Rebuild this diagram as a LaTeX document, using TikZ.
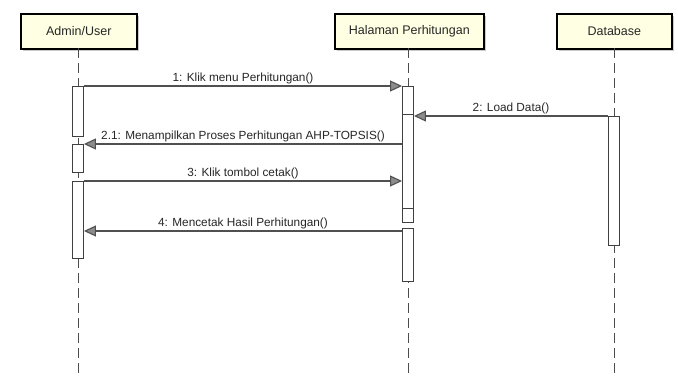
\documentclass[tikz,border=0pt]{standalone}
\usepackage{fontspec}
\setmainfont{Liberation Sans}
\usetikzlibrary{arrows.meta,shadows}
\definecolor{boxfill}{HTML}{FFFFE3}
\definecolor{msgcol}{HTML}{505050}
\begin{document}
\begin{tikzpicture}[x=1pt,y=-1pt,
  part/.style={draw=black, line width=1.6pt, fill=boxfill, minimum height=35pt,
    inner sep=0pt, anchor=north west, text=black!85,
    font=\fontsize{12.5}{14}\selectfont,
    drop shadow={shadow xshift=2.5pt, shadow yshift=-2.5pt, fill=black!35, opacity=0.6}},
  life/.style={draw=black!70, line width=1pt, dash pattern=on 10pt off 5pt},
  act/.style={draw=black!75, fill=white, line width=0.9pt, minimum width=11pt,
    inner sep=0pt, anchor=north},
  msg/.style={draw=msgcol, line width=1.1pt,
    -{Triangle[length=12pt,width=11pt,fill=black!45]}},
  lbl/.style={above=1pt, midway, inner sep=1pt, text=black!85,
    font=\fontsize{11.8}{13}\selectfont}]
\useasboundingbox (0,0) rectangle (678,377);

% participants
\node[part, minimum width=116pt] (admin) at (20,13) {Admin/User};
\node[part, minimum width=149pt] (hal) at (334,13) {Halaman Perhitungan};
\node[part, minimum width=115pt] (db) at (556,13) {Database};

% lifeline ends
\coordinate (adminEnd) at (78,377);
\coordinate (halEnd) at (408,377);
\coordinate (dbEnd) at (614,377);
\draw[life] (78,48) -- (adminEnd);
\draw[life] (408,48) -- (halEnd);
\draw[life] (614,48) -- (dbEnd);

% activation bars
\node[act, minimum height=50pt] (a1) at (78,86) {};
\node[act, minimum height=28pt] (a2) at (78,144) {};
\node[act, minimum height=77pt] (a3) at (78,181) {};
\node[act, minimum height=136pt] (h1) at (408,86) {};
\node[act, minimum height=53pt] (h2) at (408,228) {};
\node[act, minimum height=129pt] (d1) at (614,116) {};

\coordinate (yA) at (0,114);
\coordinate (yB) at (0,208);
\draw[draw=black!75, line width=0.9pt] (h1.west |- yA) -- (h1.east |- yA);
\draw[draw=black!75, line width=0.9pt] (h1.west |- yB) -- (h1.east |- yB);

% messages
\coordinate (y4) at (0,231);
\draw[msg] (a1.north east) -- node[lbl] {1: Klik menu Perhitungan()} (h1.north west);
\draw[msg] (d1.north west) -- node[lbl] {2: Load Data()} (h1.east |- d1.north);
\draw[msg] (h1.west |- a2.north) -- node[lbl] {2.1: Menampilkan Proses Perhitungan AHP-TOPSIS()} (a2.north east);
\draw[msg] (a3.north east) -- node[lbl] {3: Klik tombol cetak()} (h1.west |- a3.north);
\draw[msg] (h2.west |- y4) -- node[lbl] {4: Mencetak Hasil Perhitungan()} (a3.east |- y4);
\end{tikzpicture}
\end{document}
